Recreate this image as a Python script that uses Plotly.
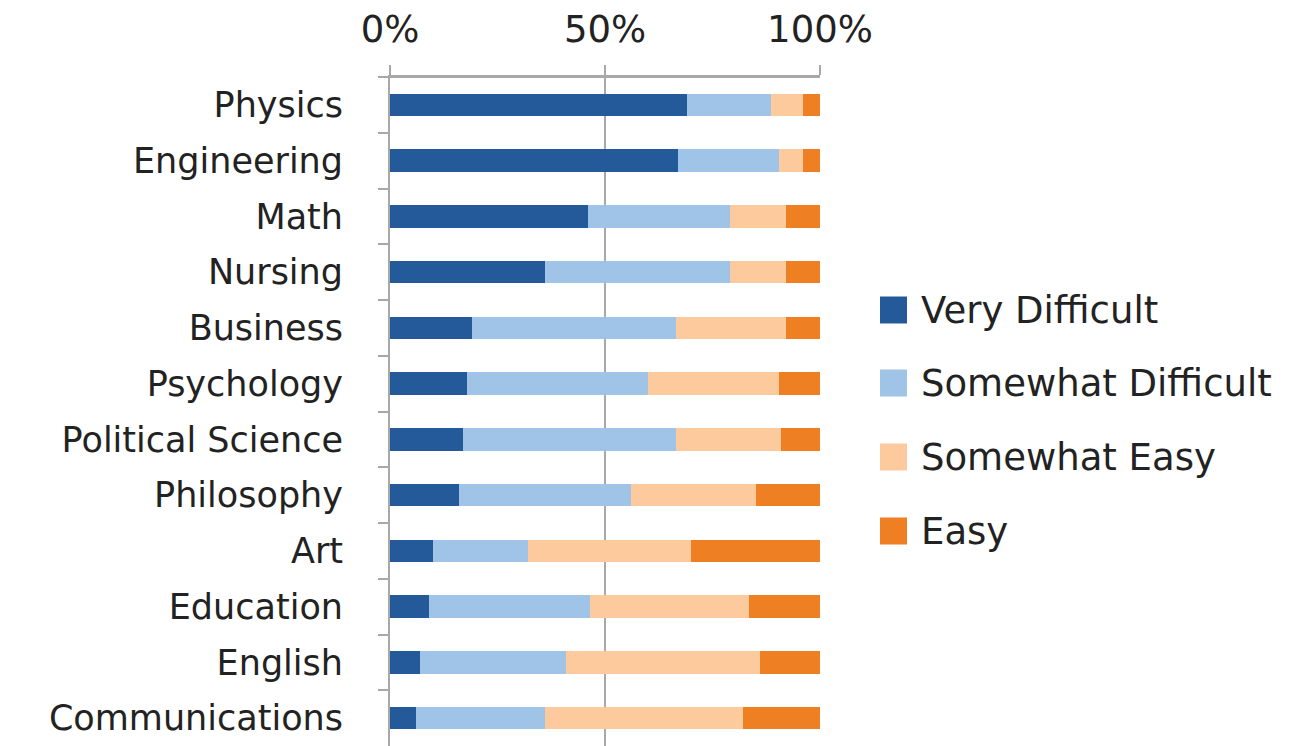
import plotly.graph_objects as go

# Survey results: share of respondents rating each major's coursework
majors = [
    "Physics", "Engineering", "Math", "Nursing", "Business", "Psychology",
    "Political Science", "Philosophy", "Art", "Education", "English",
    "Communications",
]
very_difficult = [69, 67, 46, 36, 19, 18, 17, 16, 10, 9, 7, 6]
somewhat_difficult = [19.5, 23.5, 33, 43, 47.5, 42, 49.5, 40, 22, 37.5, 34, 30]
somewhat_easy = [7.5, 5.5, 13, 13, 25.5, 30.5, 24.5, 29, 38, 37, 45, 46]
easy = [4, 4, 8, 8, 8, 9.5, 9, 15, 30, 16.5, 14, 18]

series_names = ["Very Difficult", "Somewhat Difficult", "Somewhat Easy", "Easy"]
series_values = [very_difficult, somewhat_difficult, somewhat_easy, easy]
series_colors = ["#245a9a", "#9fc4e7", "#fcca9c", "#ee7f22"]

x_ticks = [0, 50, 100]
x_tick_labels = ["0%", "50%", "100%"]

FONT = "'DejaVu Sans', sans-serif"
TEXT = "#222222"
GRID = "#a8a8a8"

W, H = 1293, 746
M_L, M_R, M_T, M_B = 390, 473, 77, 0

fig = go.Figure()
for name, vals, color in zip(series_names, series_values, series_colors):
    fig.add_trace(go.Bar(
        y=majors, x=vals, name=name, orientation="h",
        marker=dict(color=color, line=dict(width=0)),
        showlegend=False,
    ))

# Legend drawn as coloured squares with labels to the right of the plot
plot_w = W - M_L - M_R
plot_h = H - M_T - M_B


def px_to_paper_x(px):
    return (px - M_L) / plot_w


def px_to_paper_y(py):
    return (H - M_B - py) / plot_h


legend_rows_y = [310, 383, 457, 531]
sq = 27
sq_left = 880
shapes = []
annotations = []
for name, color, cy in zip(series_names, series_colors, legend_rows_y):
    shapes.append(dict(
        type="rect", xref="paper", yref="paper",
        x0=px_to_paper_x(sq_left), x1=px_to_paper_x(sq_left + sq),
        y0=px_to_paper_y(cy + sq / 2), y1=px_to_paper_y(cy - sq / 2),
        fillcolor=color, line=dict(width=0),
    ))
    annotations.append(dict(
        xref="paper", yref="paper",
        x=px_to_paper_x(sq_left + sq + 12), y=px_to_paper_y(cy),
        xanchor="left", yanchor="middle", showarrow=False,
        text=name, font=dict(family=FONT, size=37, color=TEXT),
    ))

# Axis line along the top edge of the plot area
shapes.append(dict(
    type="line", xref="paper", yref="paper",
    x0=0, x1=1, y0=1, y1=1,
    line=dict(color=GRID, width=2),
))

fig.update_layout(
    barmode="stack",
    bargap=0.6,
    width=W, height=H,
    margin=dict(l=M_L, r=M_R, t=M_T, b=M_B, pad=0),
    paper_bgcolor="white",
    plot_bgcolor="white",
    font=dict(family=FONT, color=TEXT),
    shapes=shapes,
    annotations=annotations,
    xaxis=dict(
        side="top",
        range=[0, 100],
        tickvals=x_ticks,
        ticktext=x_tick_labels,
        tickfont=dict(family=FONT, size=37, color=TEXT),
        ticks="outside", ticklen=10, tickwidth=2, tickcolor=GRID,
        ticklabelstandoff=8,
        showline=True, linecolor=GRID, linewidth=2,
        showgrid=True, gridcolor=GRID, gridwidth=2,
        zeroline=False,
    ),
    yaxis=dict(
        categoryorder="array",
        categoryarray=majors,
        autorange="reversed",
        tickson="boundaries",
        ticks="outside", ticklen=10, tickwidth=2, tickcolor=GRID,
        tickfont=dict(family=FONT, size=35, color=TEXT),
        ticklabelstandoff=38,
        showline=True, linecolor=GRID, linewidth=2,
        showgrid=False, zeroline=False,
    ),
)

fig.write_html("out.html")
